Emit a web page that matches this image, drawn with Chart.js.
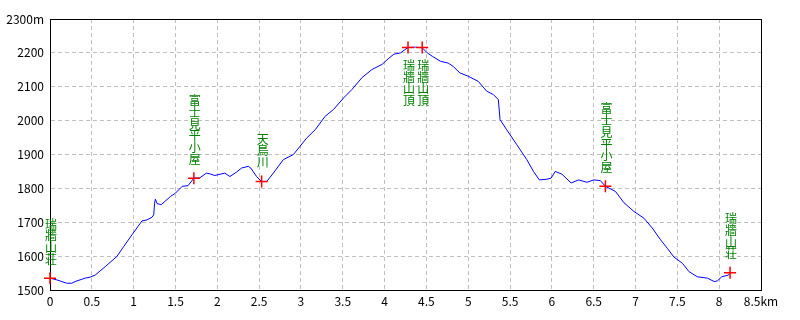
<!DOCTYPE html>
<html lang="ja">
<head>
<meta charset="utf-8">
<title>瑞牆山 標高グラフ</title>
<script src="https://cdn.jsdelivr.net/npm/chart.js@4.4.1/dist/chart.umd.min.js"></script>
<style>
  html, body { margin: 0; padding: 0; background: #fff; }
  canvas { display: block; }
</style>
</head>
<body>
<canvas id="profile" width="800" height="320"></canvas>
<script>
// 距離 (km) と標高 (m) ― 図から読み取った値
const distKm = [
  0, 0.08, 0.2, 0.26, 0.3, 0.42, 0.48, 0.54, 0.66, 0.8, 0.88, 0.98,
  1.1, 1.16, 1.22, 1.24, 1.25, 1.26, 1.28, 1.33, 1.44, 1.5, 1.58, 1.65,
  1.72, 1.79, 1.87, 1.91, 1.97, 2.09, 2.15, 2.23, 2.29, 2.37, 2.4, 2.47,
  2.53, 2.59, 2.67, 2.79, 2.91, 3.07, 3.17, 3.29, 3.39, 3.51, 3.61, 3.73,
  3.85, 3.97, 4.05, 4.11, 4.19, 4.28, 4.37, 4.45, 4.51, 4.57, 4.67, 4.76,
  4.82, 4.9, 5.0, 5.12, 5.22, 5.3, 5.36, 5.38, 5.46, 5.58, 5.7, 5.78,
  5.85, 5.94, 5.99, 6.04, 6.12, 6.23, 6.32, 6.42, 6.5, 6.58, 6.64, 6.76,
  6.86, 6.98, 7.1, 7.2, 7.3, 7.38, 7.46, 7.56, 7.64, 7.74, 7.86, 7.94,
  7.98, 8.03, 8.11, 8.13
];
const elevM = [
  1535, 1530, 1520, 1520, 1525, 1535, 1538, 1544, 1569, 1599, 1628, 1663,
  1704, 1707, 1715, 1722, 1756, 1768, 1755, 1752, 1776, 1786, 1806, 1808,
  1830, 1831, 1845, 1843, 1838, 1845, 1835, 1848, 1860, 1865, 1860, 1835,
  1820, 1820, 1845, 1885, 1900, 1949, 1973, 2013, 2033, 2067, 2092, 2127,
  2151, 2166, 2184, 2196, 2200, 2216, 2217, 2215, 2200, 2190, 2175, 2170,
  2160, 2141, 2131, 2116, 2087, 2077, 2062, 2003, 1973, 1929, 1885, 1850,
  1825, 1827, 1830, 1850, 1842, 1816, 1825, 1818, 1825, 1823, 1806, 1791,
  1758, 1732, 1712, 1683, 1648, 1623, 1597, 1579, 1554, 1539, 1535, 1525,
  1527, 1539, 1544, 1551
];

// 地点
const pointNames = ['瑞牆山荘', '富士見平小屋', '天鳥川', '瑞牆山頂', '瑞牆山頂', '富士見平小屋', '瑞牆山荘'];
const pointKm = [0, 1.72, 2.53, 4.28, 4.45, 6.64, 8.13];
const pointM = [1535, 1830, 1820, 2216, 2216, 1806, 1551];

// 目盛りラベル
const xTickLabels = ['0', '0.5', '1', '1.5', '2', '2.5', '3', '3.5', '4', '4.5',
  '5', '5.5', '6', '6.5', '7', '7.5', '8', '8.5km'];
const yTickLabels = ['1500', '1600', '1700', '1800', '1900', '2000', '2100', '2200', '2300m'];

const FONT = '"Noto Sans CJK JP", "DejaVu Sans", sans-serif';

// 枠線（上・右も含む）
const frame = {
  id: 'frame',
  beforeDatasetsDraw(chart) {
    const a = chart.chartArea;
    const ctx = chart.ctx;
    ctx.save();
    ctx.strokeStyle = '#000';
    ctx.lineWidth = 1;
    ctx.strokeRect(Math.round(a.left) + 0.5, Math.round(a.top) + 0.5,
      Math.round(a.right - a.left), Math.round(a.bottom - a.top));
    ctx.restore();
  }
};

// 地点名（縦書き）
const placeLabels = {
  id: 'placeLabels',
  afterDatasetsDraw(chart) {
    const ctx = chart.ctx;
    const xs = chart.scales.x, ys = chart.scales.y;
    const pitch = 11.7;
    ctx.save();
    ctx.fillStyle = '#008000';
    ctx.font = '12px ' + FONT;
    ctx.textAlign = 'center';
    ctx.textBaseline = 'middle';
    pointNames.forEach(function (name, i) {
      const chars = name.split('');
      const px = xs.getPixelForValue(pointKm[i]) + 1;
      const py = ys.getPixelForValue(pointM[i]);
      chars.forEach(function (ch, k) {
        let cy;
        if (pointM[i] > 2100) {
          cy = py + 18 + k * pitch;          // 山頂は下に
        } else {
          cy = py - 19 - (chars.length - 1 - k) * pitch;
        }
        ctx.fillText(ch, px, cy);
      });
    });
    ctx.restore();
  }
};

const ctx = document.getElementById('profile').getContext('2d');
new Chart(ctx, {
  data: {
    datasets: [{
      type: 'line',
      data: distKm.map((d, i) => ({ x: d, y: elevM[i] })),
      borderColor: '#0000ff',
      borderWidth: 1,
      pointRadius: 0,
      tension: 0,
      fill: false,
      order: 2
    }, {
      type: 'scatter',
      data: pointKm.map((d, i) => ({ x: d, y: pointM[i] })),
      pointStyle: 'cross',
      pointRadius: 6,
      borderColor: '#ff0000',
      borderWidth: 1.5,
      clip: false,
      order: 1
    }]
  },
  options: {
    responsive: false,
    animation: false,
    layout: { padding: { left: 0, right: 39, top: 19, bottom: 0 } },
    plugins: {
      legend: { display: false },
      tooltip: { enabled: false }
    },
    scales: {
      x: {
        type: 'linear',
        min: 0,
        max: 8.5,
        afterFit(scale) { scale.height = 30; },
        grid: { color: '#c0c0c0', drawTicks: false },
        border: { color: '#000', dash: [4, 3] },
        ticks: {
          stepSize: 0.5,
          padding: 4,
          color: '#000',
          maxRotation: 0,
          autoSkip: false,
          font: { family: FONT, size: 12 },
          callback: (v, i) => xTickLabels[i]
        }
      },
      y: {
        min: 1500,
        max: 2300,
        afterFit(scale) { scale.width = 50; },
        grid: { color: '#c0c0c0', drawTicks: false },
        border: { color: '#000', dash: [4, 3] },
        ticks: {
          stepSize: 100,
          padding: 6,
          color: '#000',
          font: { family: FONT, size: 12 },
          callback: (v, i) => yTickLabels[i]
        }
      }
    }
  },
  plugins: [frame, placeLabels]
});
</script>
</body>
</html>
